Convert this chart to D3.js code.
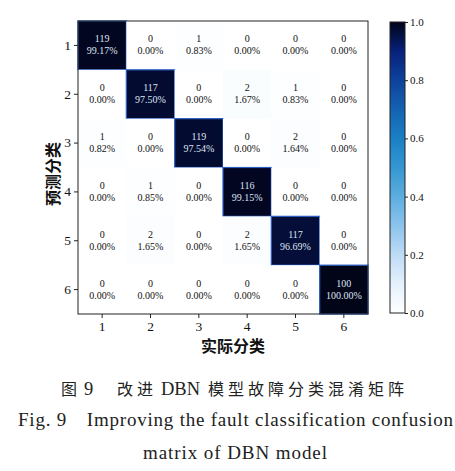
<!DOCTYPE html>
<html>
<head>
<meta charset="utf-8">
<script src="https://cdn.jsdelivr.net/npm/d3@7"></script>
<style>
    body { margin: 0; background: #fff; }
    svg { display: block; }
</style>
</head>
<body>
<div id="chart"></div>
<script>
// classes on both axes
const classes = ["1", "2", "3", "4", "5", "6"];

// counts, rows = predicted class, columns = actual class
const counts = [
    [119, 0, 1, 0, 0, 0],
    [0, 117, 0, 2, 1, 0],
    [1, 0, 119, 0, 2, 0],
    [0, 1, 0, 116, 0, 0],
    [0, 2, 0, 2, 117, 0],
    [0, 0, 0, 0, 0, 100]
];

// percentages as printed in the cells
const percents = [
    [99.17, 0.00, 0.83, 0.00, 0.00, 0.00],
    [0.00, 97.50, 0.00, 1.67, 0.83, 0.00],
    [0.82, 0.00, 97.54, 0.00, 1.64, 0.00],
    [0.00, 0.85, 0.00, 99.15, 0.00, 0.00],
    [0.00, 1.65, 0.00, 1.65, 96.69, 0.00],
    [0.00, 0.00, 0.00, 0.00, 0.00, 100.00]
];

const colorTicks = [0, 0.2, 0.4, 0.6, 0.8, 1.0];

const xTitle = "实际分类";
const yTitle = "预测分类";
// caption pieces (Chinese line split so DBN keeps normal spacing)
const captionCn = ["图", "9", "改进", "DBN", "模型故障分类混淆矩阵"];
const captionEn1 = "Fig. 9　Improving the fault classification confusion";
const captionEn2 = "matrix of DBN model";

// colormap, white -> blue -> near black
const cmapColors = ["#ffffff", "#e4f1fc", "#bedbf5", "#8cc3ec", "#5caddf",
    "#3497d1", "#1a80c4", "#1462b2", "#0d429c", "#07217a", "#020418"];

let color = d3.scaleLinear()
    .domain(d3.range(cmapColors.length).map(i => i / (cmapColors.length - 1)))
    .range(cmapColors)
    .interpolate(d3.interpolateRgb)
    .clamp(true);

let width = 455, height = 471;
let plot = {left: 78, top: 21, right: 368, bottom: 314};
let bar = {left: 390, right: 405, top: 22, bottom: 313};

let serif = "'Liberation Serif', 'Times New Roman', serif";
let cjk = "'Noto Sans CJK SC', sans-serif";

let svg = d3.select("#chart").append("svg")
    .attr("width", width)
    .attr("height", height);

let x = d3.scaleBand().domain(classes).range([plot.left, plot.right]);
let y = d3.scaleBand().domain(classes).range([plot.top, plot.bottom]);

// flatten the matrix into cells
let cells = [];
counts.forEach((row, i) => {
    row.forEach((c, j) => {
        cells.push({row: classes[i], col: classes[j], count: c, pct: percents[i][j]});
    });
});

// draw cells
svg.append("g").selectAll("rect")
    .data(cells)
    .enter()
    .append("rect")
    .attr("x", d => x(d.col))
    .attr("y", d => y(d.row))
    .attr("width", x.bandwidth())
    .attr("height", y.bandwidth())
    .attr("fill", d => color(d.pct / 100))
    .attr("stroke", d => d.pct > 50 ? "#2a5ec4" : "none")
    .attr("stroke-width", 1.2);

// cell labels
let labels = svg.append("g").selectAll("text")
    .data(cells)
    .enter()
    .append("text")
    .attr("text-anchor", "middle")
    .attr("font-family", serif)
    .attr("font-size", "10px")
    .attr("fill", d => d.pct > 50 ? "#dfe4f2" : "#111");

labels.append("tspan")
    .attr("x", d => x(d.col) + x.bandwidth() / 2)
    .attr("y", d => y(d.row) + y.bandwidth() / 2 - 3)
    .text(d => d.count);

labels.append("tspan")
    .attr("x", d => x(d.col) + x.bandwidth() / 2)
    .attr("y", d => y(d.row) + y.bandwidth() / 2 + 9)
    .text(d => d.pct.toFixed(2) + "%");

// axes
let xAxis = svg.append("g")
    .attr("transform", "translate(0," + plot.bottom + ")")
    .call(d3.axisBottom(x).tickSizeOuter(0).tickSize(4).tickPadding(3));

let yAxis = svg.append("g")
    .attr("transform", "translate(" + plot.left + ",0)")
    .call(d3.axisLeft(y).tickSizeOuter(0).tickSize(4).tickPadding(3));

[xAxis, yAxis].forEach(a => {
    a.select(".domain").remove();
    a.selectAll("text")
        .attr("font-family", serif)
        .attr("font-size", "13.5px")
        .attr("fill", "#111");
    a.selectAll("line").attr("stroke", "#222");
});

// frame around the plot
svg.append("rect")
    .attr("x", plot.left)
    .attr("y", plot.top)
    .attr("width", plot.right - plot.left)
    .attr("height", plot.bottom - plot.top)
    .attr("fill", "none")
    .attr("stroke", "#222")
    .attr("stroke-width", 1);

// axis titles
svg.append("text")
    .attr("x", 233)
    .attr("y", 352)
    .attr("text-anchor", "middle")
    .attr("font-family", cjk)
    .attr("font-weight", "bold")
    .attr("font-size", "16px")
    .attr("fill", "#111")
    .text(xTitle);

svg.append("text")
    .attr("transform", "translate(59," + 174 + ") rotate(-90)")
    .attr("text-anchor", "middle")
    .attr("font-family", cjk)
    .attr("font-weight", "bold")
    .attr("font-size", "16px")
    .attr("fill", "#111")
    .text(yTitle);

// colorbar
let grad = svg.append("defs").append("linearGradient")
    .attr("id", "cbar")
    .attr("x1", 0).attr("y1", 1)
    .attr("x2", 0).attr("y2", 0);

grad.selectAll("stop")
    .data(d3.range(0, 1.0001, 0.05))
    .enter()
    .append("stop")
    .attr("offset", d => d)
    .attr("stop-color", d => color(d));

svg.append("rect")
    .attr("x", bar.left)
    .attr("y", bar.top)
    .attr("width", bar.right - bar.left)
    .attr("height", bar.bottom - bar.top)
    .attr("fill", "url(#cbar)")
    .attr("stroke", "#222")
    .attr("stroke-width", 1);

let cScale = d3.scaleLinear().domain([0, 1]).range([bar.bottom, bar.top]);

let cAxis = svg.append("g")
    .attr("transform", "translate(" + bar.right + ",0)")
    .call(d3.axisRight(cScale).tickValues(colorTicks).tickFormat(d3.format(".1f"))
        .tickSize(3).tickSizeOuter(0).tickPadding(2));

cAxis.select(".domain").remove();
cAxis.selectAll("text")
    .attr("font-family", serif)
    .attr("font-size", "11px")
    .attr("fill", "#111");
cAxis.selectAll("line").attr("stroke", "#222");

// caption, Chinese line
let capX = [61, 84, 117, 161, 208];
let cn = svg.append("text")
    .attr("y", 395)
    .attr("fill", "#222");

cn.selectAll("tspan")
    .data(captionCn)
    .enter()
    .append("tspan")
    .attr("x", (d, i) => capX[i])
    .attr("font-family", d => /[A-Z0-9]/.test(d) ? serif : cjk)
    .attr("font-size", d => /[A-Z0-9]/.test(d) ? "18.5px" : "16px")
    .attr("letter-spacing", d => /[A-Z0-9]/.test(d) ? "0px" : "4px")
    .text(d => d);

// caption, English lines
svg.append("text")
    .attr("x", 18)
    .attr("y", 426)
    .attr("font-family", serif)
    .attr("font-size", "19px")
    .attr("textLength", 435)
    .attr("lengthAdjust", "spacing")
    .attr("fill", "#222")
    .text(captionEn1);

svg.append("text")
    .attr("x", 143)
    .attr("y", 459)
    .attr("font-family", serif)
    .attr("font-size", "19px")
    .attr("textLength", 184)
    .attr("lengthAdjust", "spacing")
    .attr("fill", "#222")
    .text(captionEn2);
</script>
</body>
</html>
